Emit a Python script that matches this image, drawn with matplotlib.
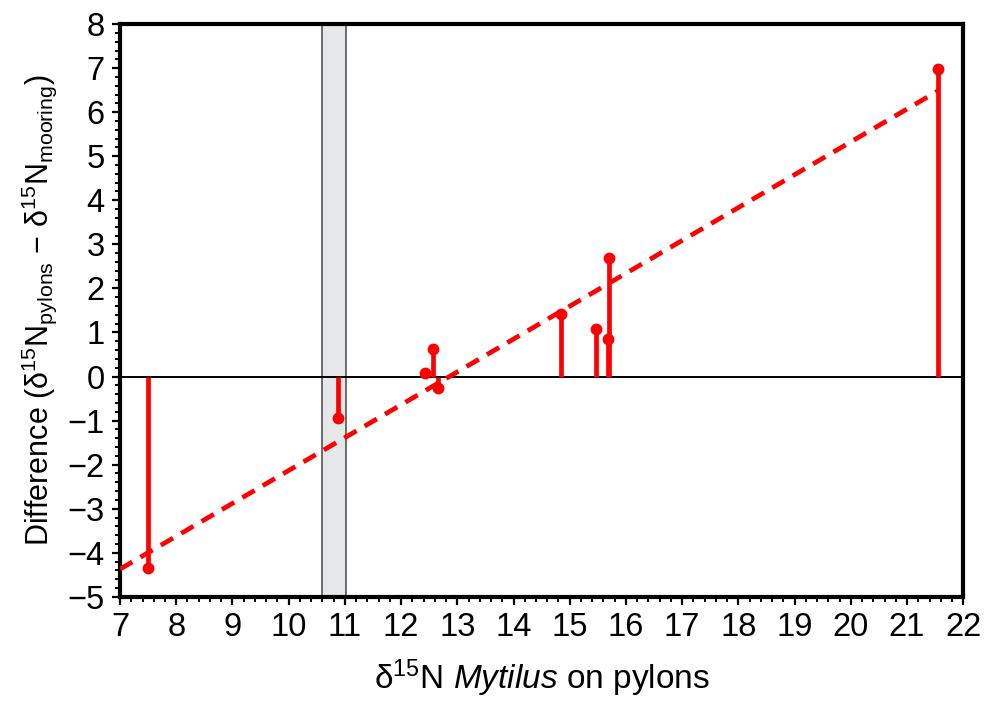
import numpy as np
import matplotlib
matplotlib.use('Agg')
import matplotlib.pyplot as plt
from matplotlib.ticker import MultipleLocator

plt.rcParams['font.family'] = ['Liberation Sans', 'DejaVu Sans']
plt.rcParams['mathtext.fontset'] = 'custom'
plt.rcParams['mathtext.rm'] = 'Liberation Sans'
plt.rcParams['mathtext.it'] = 'Liberation Sans:italic'

# -------------------------------
# Data
# -------------------------------
x_pylons = [7.50, 10.88, 12.43, 12.57, 12.66, 14.85, 15.47, 15.68, 15.70, 21.56]
diff = [-4.35, -0.93, 0.07, 0.63, -0.27, 1.43, 1.07, 0.86, 2.68, 6.98]

# regression line endpoints
fit_x = [7.0, 21.56]
fit_y = [-4.37, 6.49]

# shaded band
band_x = [10.6, 11.02]

fig = plt.figure(figsize=(9.92, 7.08), dpi=100)
ax = fig.add_axes([0.121, 0.157, 0.850, 0.809])

ax.axvspan(band_x[0], band_x[1], facecolor='#e6e7e8', edgecolor='#555555', linewidth=1.2, zorder=1)
ax.axhline(0, color='black', linewidth=1.4, zorder=2)

ax.plot(fit_x, fit_y, color='red', linewidth=3.4, linestyle=(0, (3.0, 2.0)), zorder=3)

ax.vlines(x_pylons, 0, diff, color='red', linewidth=3.4, zorder=4)
ax.plot(x_pylons, diff, 'o', color='red', markersize=7.5, zorder=5)

ax.set_xlim(7, 22)
ax.set_ylim(-5, 8)
ax.xaxis.set_major_locator(MultipleLocator(1))
ax.xaxis.set_minor_locator(MultipleLocator(0.2))
ax.yaxis.set_major_locator(MultipleLocator(1))
ax.yaxis.set_minor_locator(MultipleLocator(0.2))

for sp in ax.spines.values():
    sp.set_linewidth(3.0)
ax.tick_params(which='major', direction='out', length=6, width=1.6, labelsize=23.5, pad=5)
ax.tick_params(which='minor', direction='out', length=3.5, width=1.4)

ax.set_xlabel(r'δ$^{15}$N $\mathit{Mytilus}$ on pylons', fontsize=24, labelpad=10)
ax.set_ylabel(r'Difference (δ$^{15}$N$_{\mathrm{pylons}}$ − δ$^{15}$N$_{\mathrm{mooring}}$)', fontsize=22, labelpad=6)

fig.savefig('out.png', dpi=100)
